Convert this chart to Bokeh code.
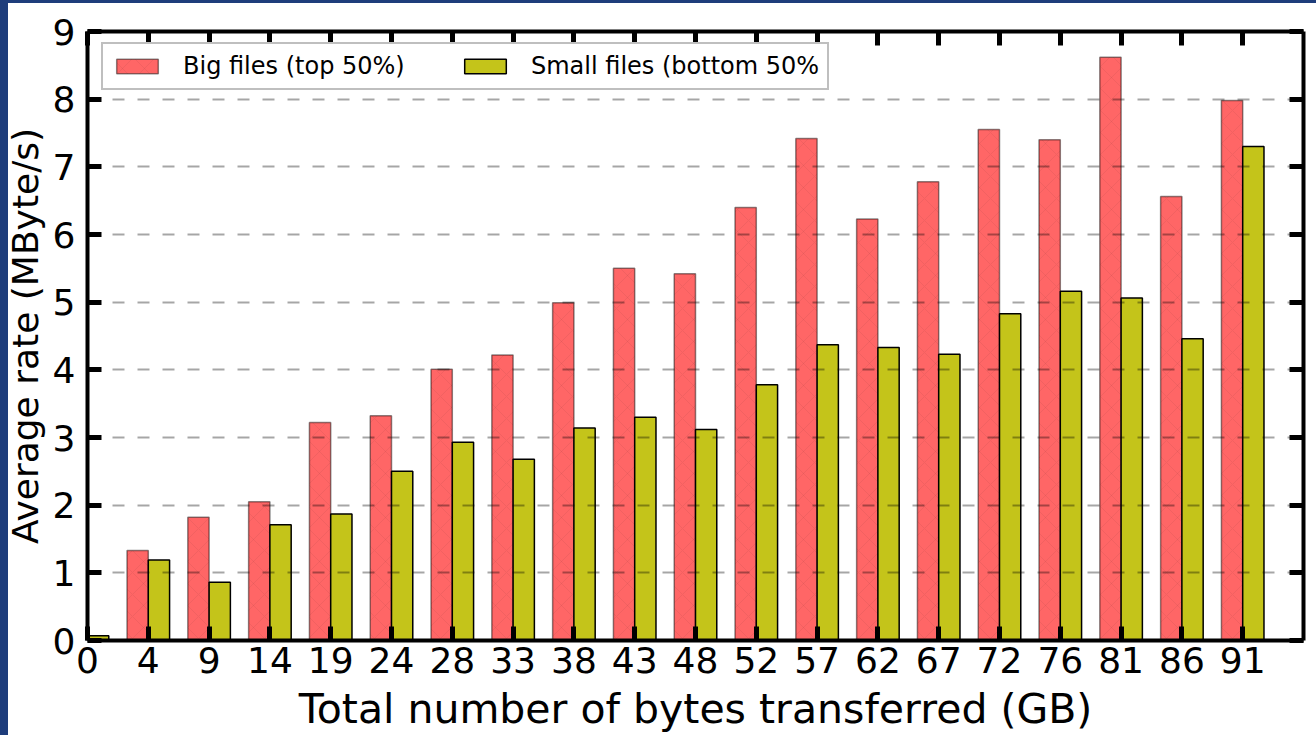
from bokeh.plotting import figure
from bokeh.models import (Range1d, FixedTicker, LinearAxis, Legend, LegendItem,
                          ColumnDataSource, CustomLabelingPolicy)
from bokeh.transform import dodge
from bokeh.embed import file_html
from bokeh.resources import INLINE

# ---- data ----
tick_labels = ["0", "4", "9", "14", "19", "24", "28", "33", "38", "43",
               "48", "52", "57", "62", "67", "72", "76", "81", "86", "91"]
big_files = [0.09, 1.33, 1.82, 2.05, 3.22, 3.32, 4.01, 4.22, 4.99, 5.50,
             5.42, 6.40, 7.42, 6.23, 6.78, 7.55, 7.40, 8.62, 6.56, 7.98]
small_files = [0.07, 1.19, 0.86, 1.71, 1.87, 2.50, 2.93, 2.68, 3.14, 3.30,
               3.12, 3.78, 4.37, 4.33, 4.23, 4.83, 5.16, 5.06, 4.46, 7.30]
y_ticks = [0, 1, 2, 3, 4, 5, 6, 7, 8, 9]
grid_ticks = [1, 2, 3, 4, 5, 6, 7, 8]
big_label = "Big files (top 50%)"
small_label = "Small files (bottom 50%"
x_title = "Total number of bytes transferred (GB)"
y_title = "Average rate (MByte/s)"

idx = list(range(len(tick_labels)))
src = ColumnDataSource(dict(x=idx, big=big_files, small=small_files))

FONT = "DejaVu Sans"
BAR_W = 0.35

p = figure(width=1316, height=735, output_backend="svg", toolbar_location=None,
           x_range=Range1d(0, len(tick_labels)), y_range=Range1d(0, 9),
           min_border_left=87, min_border_right=13, min_border_top=31, min_border_bottom=95)
p.background_fill_color = "white"
p.border_fill_color = "white"
p.outline_line_color = None

r_big = p.vbar(x=dodge("x", -BAR_W / 2, range=p.x_range), top="big", width=BAR_W, source=src,
               fill_color="#ff6666", line_color="black", line_alpha=0.45, line_width=1.5,
               hatch_pattern="diagonal_cross", hatch_color="black", hatch_alpha=0.05,
               hatch_scale=22, hatch_weight=1)
r_small = p.vbar(x=dodge("x", BAR_W / 2, range=p.x_range), top="small", width=BAR_W, source=src,
                 fill_color="#c4c41a", line_color="black", line_width=1.5)

hide_all = CustomLabelingPolicy(code="""
for (let i = 0; i < indices.size; i++) { indices.unset(i) }
return indices
""")


def style_axis(ax, ticks, show_labels):
    ax.ticker = FixedTicker(ticks=ticks)
    ax.major_tick_in = 14
    ax.major_tick_out = 0
    ax.major_tick_line_width = 5
    ax.major_tick_line_color = "black"
    ax.minor_tick_line_color = None
    ax.axis_line_width = 4
    ax.axis_line_color = "black"
    ax.major_label_text_font = FONT
    ax.major_label_text_color = "black"
    ax.axis_label_text_font = FONT
    ax.axis_label_text_font_style = "normal"
    ax.axis_label_text_color = "black"
    if show_labels:
        ax.major_label_text_font_size = "36px"
    else:
        ax.major_label_policy = hide_all
        ax.major_label_text_font_size = "0px"
        ax.major_label_standoff = 0


xa = p.xaxis[0]
style_axis(xa, idx, True)
xa.major_label_overrides = {i: lab for i, lab in zip(idx, tick_labels)}
xa.major_label_standoff = 6
xa.axis_label = x_title
xa.axis_label_text_font_size = "41px"
xa.axis_label_standoff = 9

ya = p.yaxis[0]
style_axis(ya, y_ticks, True)
ya.major_label_standoff = 12
ya.axis_label = y_title
ya.axis_label_text_font_size = "36px"
ya.axis_label_standoff = 4

top_ax = LinearAxis()
style_axis(top_ax, idx, False)
p.add_layout(top_ax, "above")
right_ax = LinearAxis()
style_axis(right_ax, y_ticks, False)
p.add_layout(right_ax, "right")

p.xgrid.visible = False
p.ygrid.ticker = FixedTicker(ticks=grid_ticks)
p.ygrid.grid_line_color = "black"
p.ygrid.grid_line_alpha = 0.35
p.ygrid.grid_line_width = 2
p.ygrid.grid_line_dash = "12 13"
p.ygrid.level = "overlay"

legend = Legend(items=[LegendItem(label=big_label, renderers=[r_big]),
                       LegendItem(label=small_label, renderers=[r_small])],
                orientation="horizontal", location=(14, 550))
legend.label_text_font = FONT
legend.label_text_font_size = "24px"
legend.label_text_color = "black"
legend.glyph_width = 52
legend.glyph_height = 18
legend.label_standoff = 20
legend.label_width = 227
legend.spacing = 49
legend.padding = 8
legend.margin = 0
legend.label_height = 27
legend.border_line_color = "#808080"
legend.border_line_width = 2
legend.background_fill_color = "white"
legend.background_fill_alpha = 1.0
p.add_layout(legend)

html = file_html(p, INLINE)
page_css = ("<style>html,body{margin:0 !important;padding:0;overflow:hidden;background:white;}"
            "body::before{content:'';position:fixed;left:0;top:0;width:8px;height:100%;"
            "background:#1e3d7b;z-index:9999;pointer-events:none;}"
            "body::after{content:'';position:fixed;left:0;top:0;width:100%;height:3px;"
            "background:#1e3d7b;z-index:9999;pointer-events:none;}</style>")
html = html.replace("</head>", page_css + "</head>", 1)
open("out.html", "w").write(html)
